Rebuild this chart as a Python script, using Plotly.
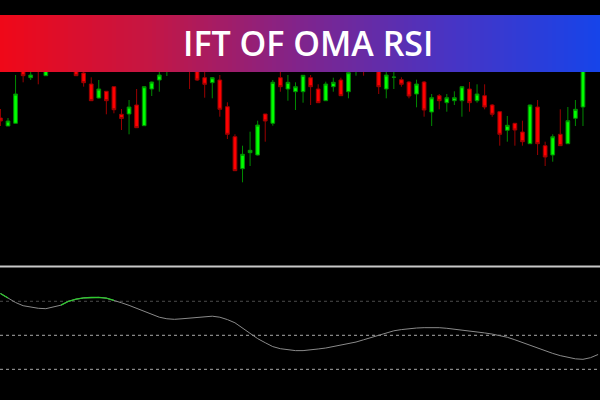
import plotly.graph_objects as go

# ---- candle data (index = bar number) ----
opens = [182, 174, 176.7, 234, 222.3, 250, 224.3, 238, 252, 244,
         238, 227, 216, 202, 208.7, 213.3, 185.7, 186, 195, 174.3,
         211, 220, 232, 240, 252, 245, 238, 222.3, 217.3, 220,
         193.3, 163.3, 131.3, 147.3, 145, 186, 176.7, 222.3, 211, 208.3,
         208.3, 222.3, 211, 199.3, 213.3, 220, 208.3, 234, 250, 240,
         240, 211, 222.7, 220.3, 218, 206, 218, 188, 204.3, 197.3,
         199.3, 199.3, 211, 199.3, 204.3, 195, 188.3, 169.7, 176.7, 168,
         156.3, 193, 154.3, 145, 165.7, 156.3, 181.7, 193, 250, 242]
highs = [191, 182, 225, 245, 240, 255, 240, 255, 258, 260,
         245, 232, 222.7, 220, 209, 214, 191, 200, 211, 214,
         218.5, 228.3, 248, 255, 256, 250, 242, 228, 223, 225,
         197.7, 165.7, 154.3, 168.3, 179.3, 186, 220, 228.3, 225, 217.7,
         225, 225, 215.7, 218.3, 222.3, 222.3, 228.3, 250, 255, 258,
         245, 230, 235, 222.7, 219, 220.3, 219, 206, 206, 206,
         208.7, 214, 218, 215.7, 215.7, 196, 189, 184, 177, 179.3,
         195.5, 200, 158.3, 165.7, 190.7, 193, 200, 245, 255, 258]
lows = [174, 174, 176.5, 217.7, 220, 215.7, 224, 234, 236, 240,
        224, 213.3, 199, 201.5, 185.7, 186.7, 170, 165.7, 172, 174,
        204, 208.3, 224, 236, 234, 211, 219, 202.3, 201.7, 183.3,
        161, 129, 117.7, 134, 144.5, 158.3, 174.3, 208.3, 199.3, 190,
        197.3, 195, 197, 199, 208.3, 204, 201.7, 224.3, 224.3, 236,
        206, 201.7, 211, 213.3, 201.7, 192.7, 183.3, 174, 190.7, 188.3,
        195, 183.3, 188.3, 197.3, 190.7, 183.3, 154.3, 158.3, 154.3, 154.3,
        156, 145, 134, 138.3, 154, 156, 174, 174, 234, 238]
closes = [179, 179, 206, 224.3, 225, 235, 232, 250, 242, 255,
          224.3, 217.3, 199.3, 211, 199.3, 190.3, 181.5, 193, 172.3, 213.3,
          218, 225, 242, 250, 242, 235, 220, 215.7, 222.3, 190.7,
          165.7, 129.3, 145.7, 149.7, 175, 179, 217.7, 213.3, 217.7, 213.3,
          224.7, 213.3, 197.3, 216, 217.7, 204.3, 227.3, 245, 238, 252,
          213.3, 225, 222.8, 215.7, 204, 216, 190, 202.3, 199.3, 202.3,
          202.3, 213.3, 197.3, 206, 193, 185.7, 165.7, 174.7, 170, 158.3,
          195, 156.3, 143, 163.3, 154.3, 179.3, 190.7, 240, 238, 252]

# ---- indicator (IFT of OMA RSI) per bar ----
ift = [0.615, 0.549, 0.482, 0.435, 0.412, 0.397, 0.391, 0.412, 0.443, 0.500,
       0.531, 0.549, 0.556, 0.557, 0.546, 0.515, 0.478, 0.440, 0.399, 0.351,
       0.306, 0.266, 0.243, 0.235, 0.243, 0.253, 0.265, 0.278, 0.281, 0.266,
       0.231, 0.184, 0.107, 0.025, -0.049, -0.109, -0.166, -0.197, -0.215, -0.225,
       -0.225, -0.216, -0.201, -0.187, -0.166, -0.149, -0.128, -0.099, -0.066, -0.032,
       0.004, 0.040, 0.066, 0.084, 0.100, 0.107, 0.112, 0.113, 0.112, 0.103,
       0.091, 0.078, 0.063, 0.050, 0.035, 0.018, -0.004, -0.029, -0.066, -0.106,
       -0.149, -0.190, -0.231, -0.266, -0.299, -0.326, -0.346, -0.353, -0.329, -0.282]
green_ranges = [(0, 1), (8, 15)]
levels = [0.5, 0.0, -0.5]
title_text = "IFT OF OMA RSI"

bars = list(range(len(opens)))

fig = go.Figure()
fig.add_trace(go.Candlestick(
    x=bars, open=opens, high=highs, low=lows, close=closes,
    increasing=dict(fillcolor="#00ff00", line=dict(color="#008a00", width=1)),
    decreasing=dict(fillcolor="#ff0000", line=dict(color="#9a0000", width=1)),
    whiskerwidth=0, xaxis="x", yaxis="y", showlegend=False, hoverinfo="skip"))

fig.add_trace(go.Scatter(x=bars, y=ift, mode="lines",
                         line=dict(color="#8a8a8a", width=1),
                         xaxis="x2", yaxis="y2", showlegend=False, hoverinfo="skip"))
for a, b in green_ranges:
    fig.add_trace(go.Scatter(x=bars[a:b + 1], y=ift[a:b + 1], mode="lines",
                             line=dict(color="#2fc82f", width=1.3),
                             xaxis="x2", yaxis="y2", showlegend=False, hoverinfo="skip"))

shapes = []
# level lines
for k, lv in enumerate(levels):
    shapes.append(dict(type="line", xref="paper", x0=0, x1=1, yref="y2", y0=lv, y1=lv,
                       line=dict(color="#4a4a4a" if k == 0 else "#a8a8a8", width=1, dash="dot"),
                       layer="below"))
# pane separator
shapes.append(dict(type="line", xref="paper", x0=0, x1=1, yref="paper",
                   y0=(400 - 266.5) / 400, y1=(400 - 266.5) / 400,
                   line=dict(color="#c8c8c8", width=2)))

# gradient banner (styling)
stops = [(0.0, (240, 8, 24)), (0.25, (196, 22, 68)), (0.5, (128, 36, 140)),
         (0.75, (72, 52, 196)), (1.0, (22, 68, 234))]


def grad(t):
    for (t0, c0), (t1, c1) in zip(stops[:-1], stops[1:]):
        if t <= t1:
            f = (t - t0) / (t1 - t0)
            return "rgb(%d,%d,%d)" % tuple(round(c0[j] + (c1[j] - c0[j]) * f) for j in range(3))
    return "rgb(%d,%d,%d)" % stops[-1][1]


n_strips = 150
by0, by1 = (400 - 72) / 400, (400 - 15) / 400
for s in range(n_strips):
    shapes.append(dict(type="rect", xref="paper", yref="paper",
                       x0=s / n_strips, x1=(s + 1.6) / n_strips if s < n_strips - 1 else 1,
                       y0=by0, y1=by1, fillcolor=grad((s + 0.5) / n_strips),
                       line=dict(width=0), layer="above"))

fig.update_layout(
    width=600, height=400,
    margin=dict(l=0, r=0, t=0, b=0),
    paper_bgcolor="#000000", plot_bgcolor="#000000",
    shapes=shapes,
    xaxis=dict(domain=[0, 1], range=[-0.057, 79.25], visible=False,
               rangeslider=dict(visible=False), anchor="y"),
    yaxis=dict(domain=[(400 - 265) / 400, 1], range=[35, 300], visible=False, anchor="x"),
    xaxis2=dict(domain=[0, 1], range=[-0.057, 79.25], visible=False, anchor="y2"),
    yaxis2=dict(domain=[0, (400 - 267) / 400], range=[-0.951, 1.004], visible=False, anchor="x2"),
    annotations=[dict(text=title_text, xref="paper", yref="paper",
                      x=308 / 600, y=(400 - 43) / 400, xanchor="center", yanchor="middle",
                      showarrow=False,
                      font=dict(family="Open Sans", size=34, color="#ffffff", weight=600))],
    showlegend=False,
)

fig.write_html("out.html", config={"staticPlot": True},
               post_script="document.body.style.margin='0';document.body.style.background='#000';")
